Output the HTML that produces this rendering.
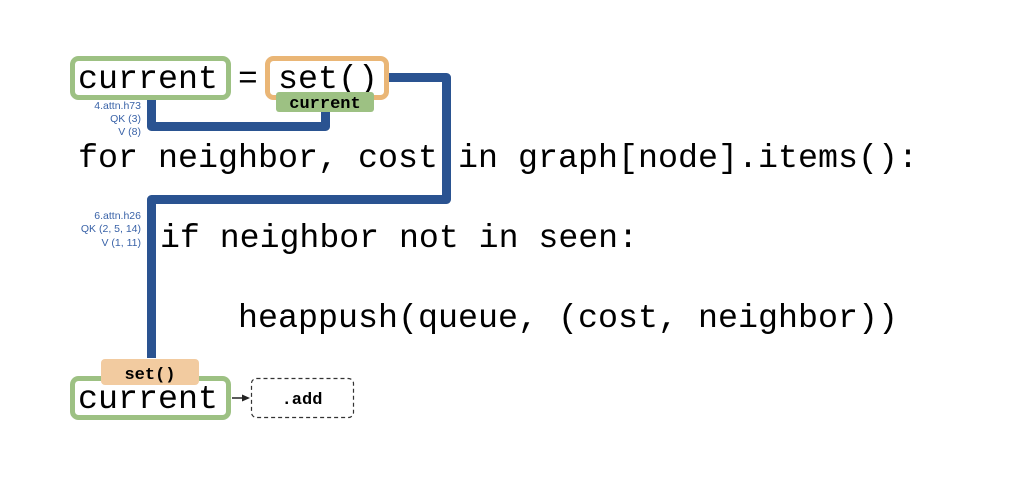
<!DOCTYPE html>
<html><head><meta charset="utf-8"><style>
html,body{margin:0;padding:0;background:#fff;width:1036px;height:480px;overflow:hidden}
svg text{font-family:"Liberation Mono",monospace}
.s{font-family:"Liberation Sans",sans-serif;font-size:10.5px;fill:#3a63a8}
</style></head><body>
<svg width="1036" height="480" viewBox="0 0 1036 480" xmlns="http://www.w3.org/2000/svg">
<path d="M388 77.5 H446.5 V199.5 H151.5 V358" fill="none" stroke="#2a5391" stroke-width="9" stroke-linejoin="round"/>
<path d="M151.5 99 V126.5 H325.5 V112" fill="none" stroke="#2a5391" stroke-width="9" stroke-linejoin="round"/>
<rect x="72.5" y="58.5" width="156" height="39" rx="6" fill="#fff" stroke="#9dc183" stroke-width="5"/>
<text x="78" y="88" font-size="33" textLength="140" lengthAdjust="spacingAndGlyphs">current</text>
<text x="238" y="88" font-size="33">=</text>
<rect x="267.5" y="58.5" width="119" height="39" rx="6" fill="#fff" stroke="#eab676" stroke-width="5"/>
<text x="278" y="88" font-size="33" textLength="100" lengthAdjust="spacingAndGlyphs">set()</text>
<rect x="276" y="92" width="98" height="20" rx="3" fill="#9dc183"/>
<text x="325" y="108" font-size="17" font-weight="bold" text-anchor="middle">current</text>
<text class="s" x="141" y="109" text-anchor="end">4.attn.h73</text>
<text class="s" x="141" y="122" text-anchor="end">QK (3)</text>
<text class="s" x="141" y="135" text-anchor="end">V (8)</text>
<text class="s" x="141" y="219" text-anchor="end">6.attn.h26</text>
<text class="s" x="141" y="232" text-anchor="end">QK (2, 5, 14)</text>
<text class="s" x="141" y="246" text-anchor="end">V (1, 11)</text>
<text x="78" y="167" font-size="33" textLength="840" lengthAdjust="spacingAndGlyphs" xml:space="preserve">for neighbor, cost in graph[node].items():</text>
<text x="160" y="247" font-size="33" textLength="478" lengthAdjust="spacingAndGlyphs" xml:space="preserve">if neighbor not in seen:</text>
<text x="238" y="327" font-size="33" textLength="660" lengthAdjust="spacingAndGlyphs" xml:space="preserve">heappush(queue, (cost, neighbor))</text>
<rect x="72.5" y="378.5" width="156" height="39" rx="6" fill="#fff" stroke="#9dc183" stroke-width="5"/>
<rect x="101" y="359" width="98" height="26" rx="4" fill="#f2cba0"/>
<text x="150" y="379" font-size="17" font-weight="bold" text-anchor="middle">set()</text>
<text x="78" y="408" font-size="33" textLength="140" lengthAdjust="spacingAndGlyphs">current</text>
<line x1="232" y1="398" x2="244" y2="398" stroke="#222" stroke-width="1.5"/>
<path d="M250 398 L242 394.5 L242 401.5 Z" fill="#222"/>
<rect x="251.5" y="378.5" width="102" height="39" rx="5" fill="#fff" stroke="#333" stroke-width="1.2" stroke-dasharray="4,3"/>
<text x="302" y="404" font-size="17" font-weight="bold" text-anchor="middle">.add</text>
</svg>
</body></html>
